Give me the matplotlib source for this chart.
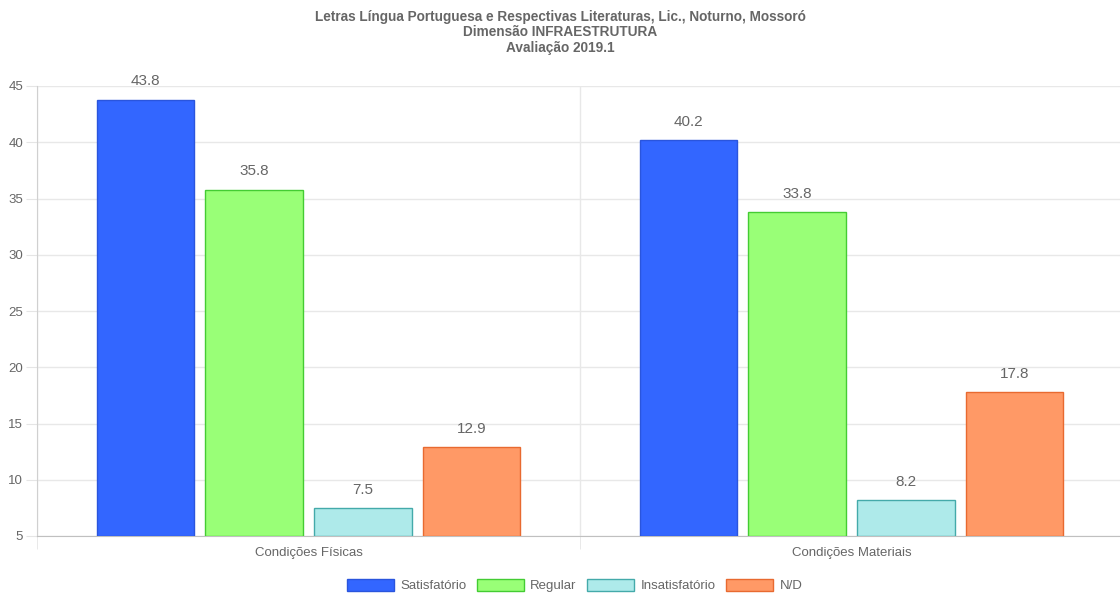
import matplotlib.pyplot as plt
import numpy as np

plt.rcParams['font.family'] = ['Liberation Sans', 'DejaVu Sans']

# DATA
categories = ['Condições Físicas', 'Condições Materiais']
series = ['Satisfatório', 'Regular', 'Insatisfatório', 'N/D']
satisfatorio = [43.8, 40.2]
regular = [35.8, 33.8]
insatisfatorio = [7.5, 8.2]
nd = [12.9, 17.8]
values = [satisfatorio, regular, insatisfatorio, nd]

fills = ['#3366ff', '#99ff77', '#aeeaea', '#ff9966']
edges = ['#2a55dd', '#44cc33', '#44aaaa', '#e86a30']

title = ('Letras Língua Portuguesa e Respectivas Literaturas, Lic., Noturno, Mossoró\n'
         'Dimensão INFRAESTRUTURA\nAvaliação 2019.1')

fig = plt.figure(figsize=(11.2, 5.94), dpi=100)
ax = fig.add_axes([37/1120, 1 - 536/594, 1086/1120, 450/594])

x = np.arange(len(categories))
slot = 0.8 / len(series)
for i, (name, vals) in enumerate(zip(series, values)):
    pos = x - 0.4 + slot * (i + 0.5)
    ax.bar(pos, np.array(vals) - 5, bottom=5, width=slot * 0.9,
           color=fills[i], edgecolor=edges[i], linewidth=1, label=name, zorder=3)
    for p, v in zip(pos, vals):
        ax.annotate(f'{v}', (p, v), xytext=(0, 8), textcoords='offset points',
                    ha='center', va='bottom', fontsize=11, color='#666666')

ax.set_xlim(-0.5, 1.5)
ax.set_ylim(5, 45)
ax.set_yticks(range(5, 50, 5))
ax.set_xticks(x)
ax.set_xticklabels(categories, fontsize=9.5, color='#666666')
ax.set_xticks([-0.5, 0.5, 1.5], minor=True)
ax.tick_params(axis='y', labelsize=9.5, labelcolor='#666666', length=8, color='#e5e5e5', pad=2)
ax.tick_params(axis='x', which='major', length=0, pad=8)
ax.tick_params(axis='x', which='minor', length=9, color='#e5e5e5')
ax.grid(axis='y', color='#e8e8e8', linewidth=1, zorder=0)
ax.grid(axis='x', which='minor', color='#e8e8e8', linewidth=1, zorder=0)
for s in ['top', 'right']:
    ax.spines[s].set_visible(False)
ax.spines['left'].set_color('#d0d0d0')
ax.spines['bottom'].set_color('#c0c0c0')

fig.suptitle(title, y=0.983, fontsize=9.8, fontweight='bold', color='#666666', linespacing=1.12)

leg = fig.legend(loc='lower center', bbox_to_anchor=(0.513, -0.017), ncol=4, frameon=False,
                 fontsize=9.5, handlelength=3.55, handleheight=1.05, columnspacing=0.8,
                 handletextpad=0.5)
for t in leg.get_texts():
    t.set_color('#666666')

plt.savefig('out.png', dpi=100)
